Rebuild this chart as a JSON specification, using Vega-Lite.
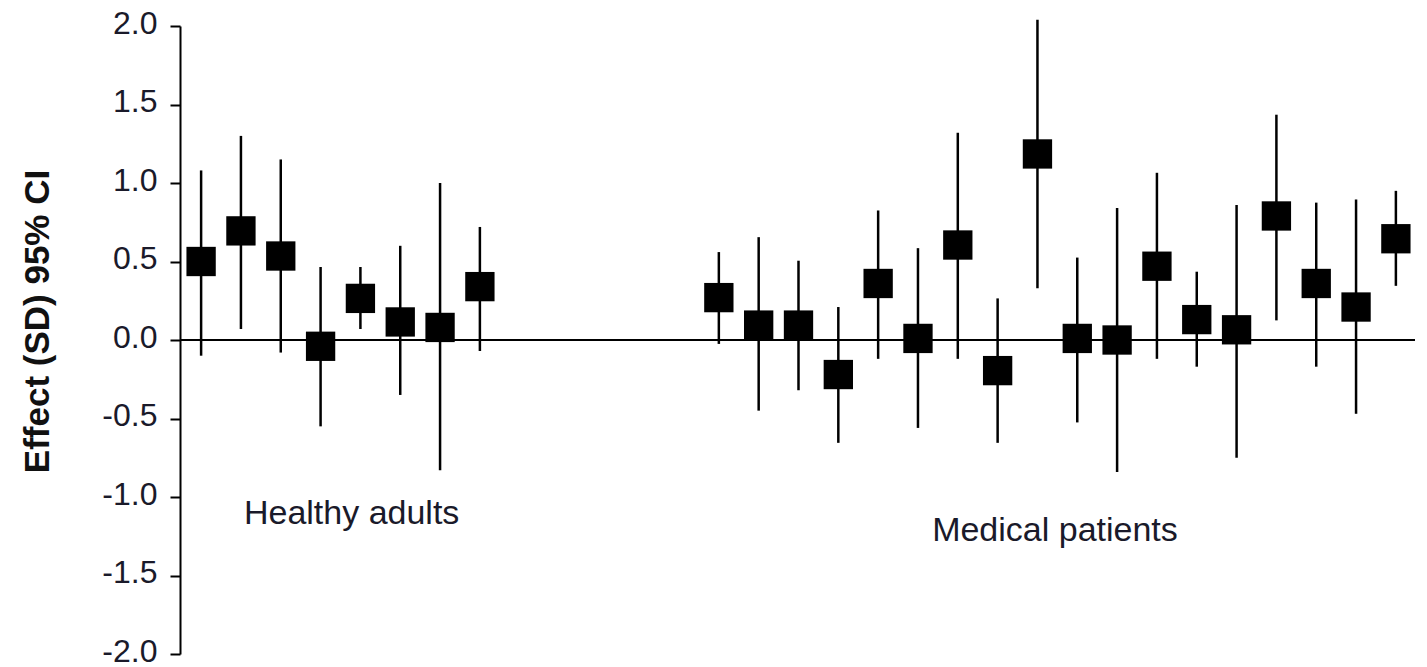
{
  "$schema": "https://vega.github.io/schema/vega-lite/v6.json",
  "width": 1235,
  "height": 628,
  "autosize": {"type": "none"},
  "padding": {"left": 180, "top": 26, "right": 12, "bottom": 13},
  "background": "white",
  "config": {"view": {"stroke": null}, "font": "Liberation Sans"},
  "datasets": {
    "studies": [
      {"i": 1, "group": "Healthy adults", "effect": 0.5, "lo": -0.1, "hi": 1.08},
      {"i": 2, "group": "Healthy adults", "effect": 0.695, "lo": 0.07, "hi": 1.3},
      {"i": 3, "group": "Healthy adults", "effect": 0.535, "lo": -0.08, "hi": 1.15},
      {"i": 4, "group": "Healthy adults", "effect": -0.04, "lo": -0.55, "hi": 0.465},
      {"i": 5, "group": "Healthy adults", "effect": 0.265, "lo": 0.07, "hi": 0.465},
      {"i": 6, "group": "Healthy adults", "effect": 0.115, "lo": -0.35, "hi": 0.6},
      {"i": 7, "group": "Healthy adults", "effect": 0.08, "lo": -0.83, "hi": 1.0},
      {"i": 8, "group": "Healthy adults", "effect": 0.34, "lo": -0.07, "hi": 0.72},
      {"i": 14, "group": "Medical patients", "effect": 0.27, "lo": -0.025, "hi": 0.56},
      {"i": 15, "group": "Medical patients", "effect": 0.095, "lo": -0.45, "hi": 0.655},
      {"i": 16, "group": "Medical patients", "effect": 0.095, "lo": -0.32, "hi": 0.505},
      {"i": 17, "group": "Medical patients", "effect": -0.22, "lo": -0.655, "hi": 0.21},
      {"i": 18, "group": "Medical patients", "effect": 0.36, "lo": -0.12, "hi": 0.825},
      {"i": 19, "group": "Medical patients", "effect": 0.01, "lo": -0.56, "hi": 0.585},
      {"i": 20, "group": "Medical patients", "effect": 0.605, "lo": -0.12, "hi": 1.32},
      {"i": 21, "group": "Medical patients", "effect": -0.195, "lo": -0.655, "hi": 0.265},
      {"i": 22, "group": "Medical patients", "effect": 1.185, "lo": 0.33, "hi": 2.04},
      {"i": 23, "group": "Medical patients", "effect": 0.01, "lo": -0.525, "hi": 0.525},
      {"i": 24, "group": "Medical patients", "effect": 0.0, "lo": -0.84, "hi": 0.84},
      {"i": 25, "group": "Medical patients", "effect": 0.47, "lo": -0.12, "hi": 1.065},
      {"i": 26, "group": "Medical patients", "effect": 0.13, "lo": -0.17, "hi": 0.435},
      {"i": 27, "group": "Medical patients", "effect": 0.065, "lo": -0.75, "hi": 0.86},
      {"i": 28, "group": "Medical patients", "effect": 0.79, "lo": 0.125, "hi": 1.435},
      {"i": 29, "group": "Medical patients", "effect": 0.36, "lo": -0.17, "hi": 0.875},
      {"i": 30, "group": "Medical patients", "effect": 0.21, "lo": -0.47, "hi": 0.895},
      {"i": 31, "group": "Medical patients", "effect": 0.645, "lo": 0.345, "hi": 0.95}
    ],
    "labels": [
      {"x": 4.78, "y": -1.173, "text": "Healthy adults"},
      {"x": 22.44, "y": -1.281, "text": "Medical patients"}
    ]
  },
  "layer": [
    {
      "data": {"values": [{"zero": 0}]},
      "mark": {"type": "rule", "color": "black", "strokeWidth": 2},
      "encoding": {
        "y": {
          "field": "zero",
          "type": "quantitative",
          "scale": {"domain": [-2, 2], "nice": false, "zero": false},
          "axis": {
            "title": "Effect (SD) 95% CI",
            "titleFont": "Liberation Sans",
            "titleFontSize": 35,
            "titleFontWeight": "bold",
            "titleColor": "#111111",
            "titleAngle": -90,
            "titleX": -143,
            "titleY": 295,
            "titleAlign": "center",
            "titleBaseline": "middle",
            "values": [-2, -1.5, -1, -0.5, 0, 0.5, 1, 1.5, 2],
            "labelExpr": "replace(format(datum.value, '.1f'), '\u2212', '-')",
            "labelFont": "Liberation Sans",
            "labelFontSize": 32,
            "labelColor": "#1a1a2a",
            "labelPadding": 13,
            "labelOffset": -3,
            "labelBound": false,
            "tickSize": 10,
            "tickWidth": 2,
            "tickColor": "black",
            "domainColor": "black",
            "domainWidth": 2,
            "grid": false
          }
        }
      }
    },
    {
      "data": {"name": "studies"},
      "mark": {"type": "rule", "color": "black", "strokeWidth": 2.5},
      "encoding": {
        "x": {"field": "i", "type": "quantitative", "scale": {"domain": [0.47, 31.48], "nice": false, "zero": false}, "axis": null},
        "y": {"field": "lo", "type": "quantitative"},
        "y2": {"field": "hi"}
      }
    },
    {
      "data": {"name": "studies"},
      "mark": {"type": "point", "shape": "square", "filled": true, "color": "black", "opacity": 1, "size": 860},
      "encoding": {
        "x": {"field": "i", "type": "quantitative"},
        "y": {"field": "effect", "type": "quantitative"}
      }
    },
    {
      "data": {"name": "labels"},
      "mark": {"type": "text", "font": "Liberation Sans", "fontSize": 34, "color": "#1a1a2a", "align": "center", "baseline": "alphabetic"},
      "encoding": {
        "x": {"field": "x", "type": "quantitative"},
        "y": {"field": "y", "type": "quantitative"},
        "text": {"field": "text"}
      }
    }
  ]
}
